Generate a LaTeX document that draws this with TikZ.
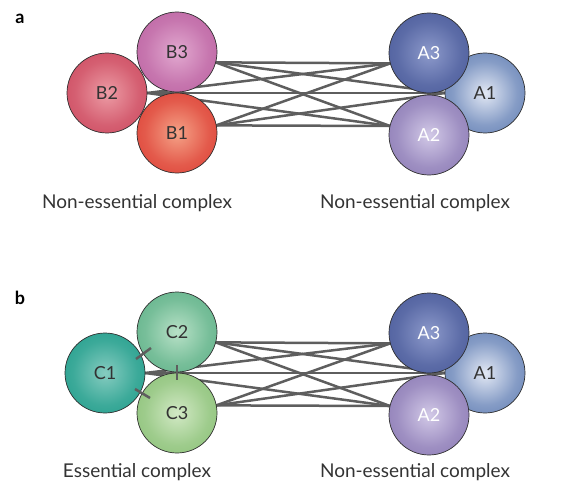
\documentclass[tikz,border=0pt]{standalone}
\usepackage{fontspec}
\setmainfont{Lato}
\usepackage{tikz}
\usetikzlibrary{backgrounds}

\definecolor{bthreein}{HTML}{E2A9D0}
\definecolor{bthreeout}{HTML}{B04C93}
\definecolor{btwoin}{HTML}{EC9CA5}
\definecolor{btwoout}{HTML}{C22E48}
\definecolor{bonein}{HTML}{F5A287}
\definecolor{boneout}{HTML}{D5201B}
\definecolor{athreein}{HTML}{8D9ACB}
\definecolor{athreeout}{HTML}{34468A}
\definecolor{aonein}{HTML}{E2E8F4}
\definecolor{aoneout}{HTML}{3A5EA0}
\definecolor{atwoin}{HTML}{D2C9E7}
\definecolor{atwoout}{HTML}{7460A4}
\definecolor{conein}{HTML}{86CCC0}
\definecolor{coneout}{HTML}{008E7A}
\definecolor{ctwoin}{HTML}{B8E1C7}
\definecolor{ctwoout}{HTML}{42A274}
\definecolor{cthreein}{HTML}{D2E9C5}
\definecolor{cthreeout}{HTML}{74B45E}
\definecolor{linkgray}{HTML}{5E5E5E}
\definecolor{rim}{HTML}{2E2E2E}
\definecolor{labeldark}{HTML}{333333}

\colorlet{ballin}{white}
\colorlet{ballmid}{lightgray}
\colorlet{ballout}{gray}
\pgfdeclareradialshading[ballin,ballmid,ballout]{softball}{\pgfpoint{0bp}{0bp}}{%
  color(0bp)=(ballin); color(20bp)=(ballmid); color(50bp)=(ballout); color(72bp)=(ballout)}

\newcommand{\tint}[2]{\colorlet{ballin}{#1}\colorlet{ballmid}{#1!45!#2}\colorlet{ballout}{#2}}

\tikzset{
  subunit/.style={circle, minimum size=80pt, inner sep=0pt, outer sep=0pt,
    draw=rim, line width=0.7pt, text=labeldark, shading=softball,
    font=\fontsize{18}{20}\selectfont},
  link/.style={draw=linkgray, line width=2.5pt},
  cut/.style={draw=linkgray, line width=2.5pt},
  caption/.style={font=\fontsize{19}{21}\selectfont, text=labeldark},
  panel/.style={font=\fontsize{18}{20}\selectfont\bfseries}
}

\begin{document}
\begin{tikzpicture}[x=1pt,y=-1pt]
  \useasboundingbox (0,0) rectangle (564,492);

  % panel a
  \node[panel] (pa) at (20,19) {a};
  \tint{aonein}{aoneout}
  \node[subunit] (A1) at (485,93) {A1};
  \tint{athreein}{athreeout}
  \node[subunit, text=white] (A3) at (429,53) {A3};
  \tint{atwoin}{atwoout}
  \node[subunit, text=white] (A2) at (429,135) {A2};
  \tint{bthreein}{bthreeout}
  \node[subunit] (B3) at (177,52) {B3};
  \tint{btwoin}{btwoout}
  \node[subunit] (B2) at (107,93) {B2};
  \tint{bonein}{boneout}
  \node[subunit] (B1) at (177,133) {B1};
  \begin{scope}[on background layer]
    \foreach \l/\la in {B3/-15,B2/0,B1/11}
      \foreach \r/\ra in {A3/195,A1/180,A2/167}
        \draw[link] (\l.\la) -- (\r.\ra);
  \end{scope}
  \node[caption] (ta) at (137,203) {Non-essential complex};
  \node[caption] (tb) at (415,203) {Non-essential complex};

  % panel b
  \node[panel] (pb) at (20,298) {b};
  \tint{aonein}{aoneout}
  \node[subunit] (D1) at (485,373) {A1};
  \tint{athreein}{athreeout}
  \node[subunit, text=white] (D3) at (429,333) {A3};
  \tint{atwoin}{atwoout}
  \node[subunit, text=white] (D2) at (429,415) {A2};
  \tint{ctwoin}{ctwoout}
  \node[subunit] (C2) at (177,332) {C2};
  \tint{conein}{coneout}
  \node[subunit] (C1) at (105,373) {C1};
  \tint{cthreein}{cthreeout}
  \node[subunit] (C3) at (177,413) {C3};
  \begin{scope}[on background layer]
    \foreach \l/\la in {C2/-15,C1/0,C3/11}
      \foreach \r/\ra in {D3/195,D1/180,D2/167}
        \draw[link] (\l.\la) -- (\r.\ra);
  \end{scope}
  \draw[cut] (136,359) -- (151,348);
  \draw[cut] (135,389) -- (150,398);
  \draw[cut] (177,365) -- (177,380);
  \node[caption] (tc) at (137,472) {Essential complex};
  \node[caption] (td) at (415,472) {Non-essential complex};
\end{tikzpicture}
\end{document}
